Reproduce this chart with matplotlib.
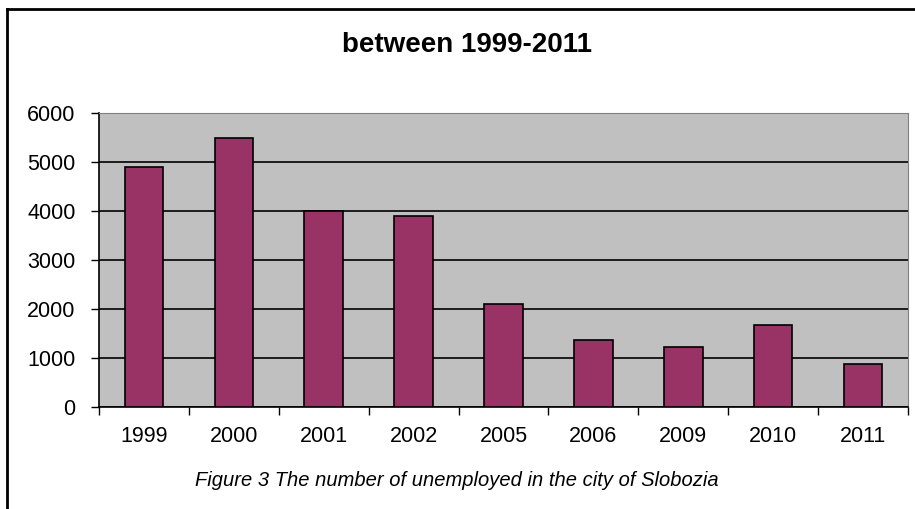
import matplotlib.pyplot as plt
from matplotlib.lines import Line2D

# data
years = ["1999", "2000", "2001", "2002", "2005", "2006", "2009", "2010", "2011"]
unemployed = [4900, 5500, 4000, 3900, 2100, 1360, 1220, 1670, 880]
y_ticks = [0, 1000, 2000, 3000, 4000, 5000, 6000]

plt.rcParams['font.family'] = ['Liberation Sans', 'DejaVu Sans']

W, H = 915, 509
fig = plt.figure(figsize=(W / 100, H / 100), dpi=100)
ax = fig.add_axes([99 / W, (H - 407) / H, (908 - 99) / W, (407 - 113) / H])

ax.set_facecolor('#C0C0C0')
x = range(len(years))
ax.bar(x, unemployed, width=0.43, color='#993366', edgecolor='black',
       linewidth=1.2, zorder=3)

ax.set_xlim(-0.5, len(years) - 0.5)
ax.set_ylim(0, 6000)
ax.set_yticks(y_ticks)
ax.set_yticklabels([str(v) for v in y_ticks], fontsize=15.5)
ax.grid(axis='y', color='black', linewidth=1.2, zorder=1)

# tick marks between categories, labels centered
ax.set_xticks([i - 0.5 for i in range(len(years) + 1)])
ax.set_xticklabels([])
ax.set_xticks(list(x), minor=True)
ax.set_xticklabels(years, minor=True, fontsize=15.5)
ax.tick_params(axis='x', which='minor', length=0, pad=14)
ax.tick_params(axis='x', which='major', length=6, width=1, direction='out')
ax.tick_params(axis='y', length=6, width=1, direction='out', pad=11)

ax.spines['left'].set_color('black')
ax.spines['bottom'].set_color('black')
ax.spines['left'].set_linewidth(1.2)
ax.spines['bottom'].set_linewidth(1.2)
ax.spines['top'].set_color('#808080')
ax.spines['right'].set_color('#808080')

fig.text(467 / W, 1 - 45 / H, "between 1999-2011", ha='center', va='center',
         fontsize=20, fontweight='bold')
fig.text(457 / W, 1 - 481 / H, "Figure 3 The number of unemployed in the city of Slobozia",
         ha='center', va='center', fontsize=14.5, style='italic')

# outer frame (left and top edges only are visible)
fig.add_artist(Line2D([7 / W, 7 / W], [0, 1 - 9 / H], transform=fig.transFigure,
                      color='black', linewidth=2))
fig.add_artist(Line2D([7 / W, 1], [1 - 9 / H, 1 - 9 / H], transform=fig.transFigure,
                      color='black', linewidth=2))

fig.savefig('out.png', dpi=100)
